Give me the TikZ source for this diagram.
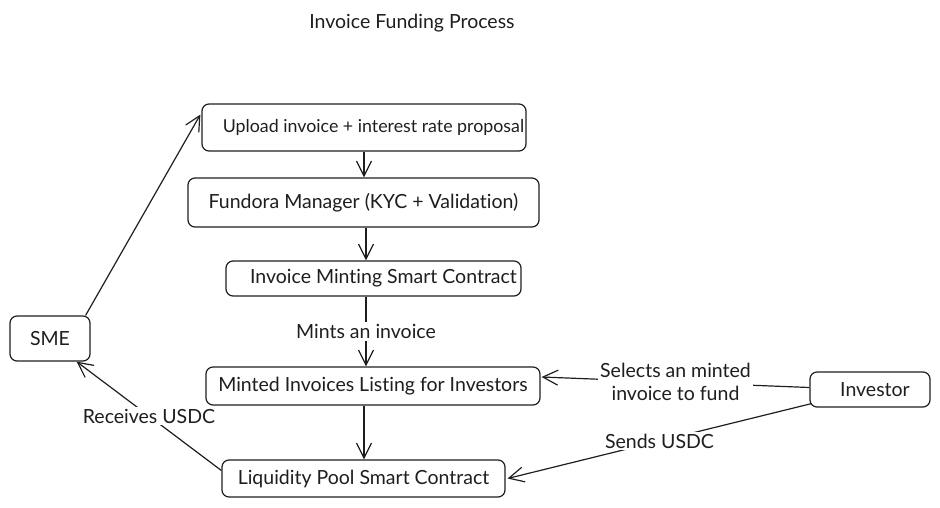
\documentclass[tikz,border=0pt]{standalone}
\usepackage{fontspec}
\setmainfont{Lato}[Ligatures={NoCommon}]
\usetikzlibrary{arrows.meta}
\definecolor{ink}{HTML}{1E1E1E}
\begin{document}
\begin{tikzpicture}[x=1pt,y=-1pt,
  box/.style={draw=ink, line width=1.2pt, rounded corners=7pt, inner sep=0pt, font=\fontsize{19.5}{23}\selectfont, text=ink},
  conn/.style={draw=ink, line width=1.2pt, -{Straight Barb[length=15pt,width=15pt,line width=1.2pt]}},
  lbl/.style={fill=white, inner sep=2pt, font=\fontsize{19.5}{23}\selectfont, text=ink, align=center}]
\useasboundingbox (0,0) rectangle (940,507);
\node[font=\fontsize{19.5}{23}\selectfont, text=ink] (title) at (412,23) {Invoice Funding Process};
\node[box, minimum width=324pt, minimum height=47pt, font=\fontsize{17.8}{21}\selectfont] (up) at (364,127.5) {\hspace*{19pt}Upload invoice + interest rate proposal};
\node[box, minimum width=351pt, minimum height=49pt] (fm) at (363.5,202.5) {Fundora Manager (KYC + Validation)};
\node[box, minimum width=295pt, minimum height=35pt] (mint) at (373.5,278.5) {\hspace*{20pt}Invoice Minting Smart Contract};
\node[box, minimum width=334pt, minimum height=38pt] (list) at (373,386) {Minted Invoices Listing for Investors};
\node[box, minimum width=283pt, minimum height=37pt] (liq) at (363.5,478.5) {Liquidity Pool Smart Contract};
\node[box, minimum width=80pt, minimum height=45pt] (sme) at (50,338.5) {SME};
\node[box, minimum width=120pt, minimum height=35pt] (inv) at (870,389.5) {\hspace*{10pt}Investor};
\draw[conn] (up.south) -- (up.south |- fm.north);
\draw[conn] ([xshift=2.5pt]fm.south) -- ([xshift=2.5pt]fm.south |- mint.north);
\draw[conn] ([xshift=-7.5pt]mint.south) -- node[lbl] {Mints an invoice} ([xshift=-7.5pt]mint.south |- list.north);
\draw[conn] ([xshift=-9pt]list.south) -- ([xshift=-9pt]list.south |- liq.north);
\draw[conn] ([xshift=-5pt]sme.north east) -- ([yshift=13pt,xshift=-1pt]up.west);
\draw[conn] ([yshift=8pt]liq.west) -- node[lbl] {Receives USDC} ([xshift=-14pt]sme.south east);
\draw[conn] ([yshift=2pt]inv.west) -- node[lbl] {Selects an minted\\invoice to fund} ([yshift=9pt,xshift=1pt]list.east);
\draw[conn] ([yshift=4pt,xshift=2pt]inv.south west) -- node[lbl] {Sends USDC} ([xshift=2pt]liq.east);
\end{tikzpicture}
\end{document}
